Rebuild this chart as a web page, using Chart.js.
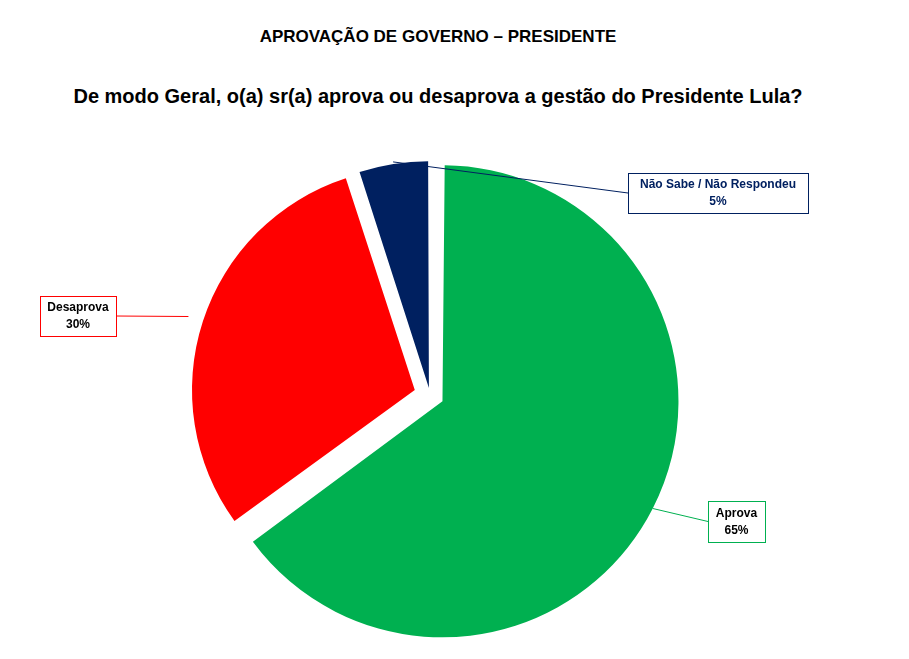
<!DOCTYPE html>
<html><head><meta charset="utf-8">
<script src="https://cdn.jsdelivr.net/npm/chart.js@4"></script>
<style>
body{margin:0;background:#fff;font-family:"Liberation Sans",Arial,sans-serif;}
#wrap{position:relative;width:909px;height:659px;}
.t1{position:absolute;top:27px;left:0;width:876px;text-align:center;font-weight:bold;font-size:17px;}
.t2{position:absolute;top:85px;left:0;width:876px;text-align:center;font-weight:bold;font-size:20px;}
canvas{position:absolute;left:0;top:0;}
</style></head><body>
<div id="wrap">
<div class="t1">APROVAÇÃO DE GOVERNO – PRESIDENTE</div>
<div class="t2">De modo Geral, o(a) sr(a) aprova ou desaprova a gestão do Presidente Lula?</div>
<canvas id="c" width="909" height="659"></canvas>
</div>
<script>
const categories = ["Aprova","Desaprova","Não Sabe / Não Respondeu"];
const values = [65,30,5];
const colors = ["#00B050","#FF0000","#002060"];
const offsets = [56,64,28];
const boxes = [
  {x:708,y:501,w:57,h:41,ax:'l'},
  {x:40,y:296,w:76,h:40,ax:'r'},
  {x:628,y:173,w:180,h:40,ax:'l'}
];
const callouts = {
  id:'callouts',
  afterDraw(chart){
    const ctx=chart.ctx;
    const meta=chart.getDatasetMeta(0);
    meta.data.forEach((arc,i)=>{
      const p=arc.getProps(['x','y','startAngle','endAngle','outerRadius'],true);
      const mid=(p.startAngle+p.endAngle)/2;
      const off=offsets[i]/2;
      const cx=p.x+Math.cos(mid)*off, cy=p.y+Math.sin(mid)*off;
      const ax=cx+Math.cos(mid)*p.outerRadius, ay=cy+Math.sin(mid)*p.outerRadius;
      const b=boxes[i];
      const bx=b.ax==='l'?b.x:b.x+b.w, by=b.y+b.h/2;
      ctx.save();
      ctx.strokeStyle=colors[i];ctx.lineWidth=1;
      ctx.beginPath();ctx.moveTo(ax,ay);ctx.lineTo(bx,by);ctx.stroke();
      ctx.fillStyle='#fff';ctx.fillRect(b.x,b.y,b.w,b.h);
      ctx.strokeRect(b.x+0.5,b.y+0.5,b.w,b.h);
      ctx.fillStyle= i===2?'#002060':'#000';
      ctx.font='bold 12px "Liberation Sans", Arial, sans-serif';
      ctx.textAlign='center';ctx.textBaseline='middle';
      ctx.fillText(categories[i],b.x+b.w/2,b.y+b.h/2-8);
      ctx.fillText(values[i]+'%',b.x+b.w/2,b.y+b.h/2+9);
      ctx.restore();
    });
  }
};
new Chart(document.getElementById('c'),{
  type:'pie',
  data:{labels:categories,datasets:[{data:values,backgroundColor:colors,borderWidth:0,offset:offsets}]},
  options:{responsive:false,animation:false,radius:222,
    layout:{padding:{left:170,right:219,top:135,bottom:4}},
    plugins:{legend:{display:false},tooltip:{enabled:false}}},
  plugins:[callouts]
});
</script>
</body></html>
